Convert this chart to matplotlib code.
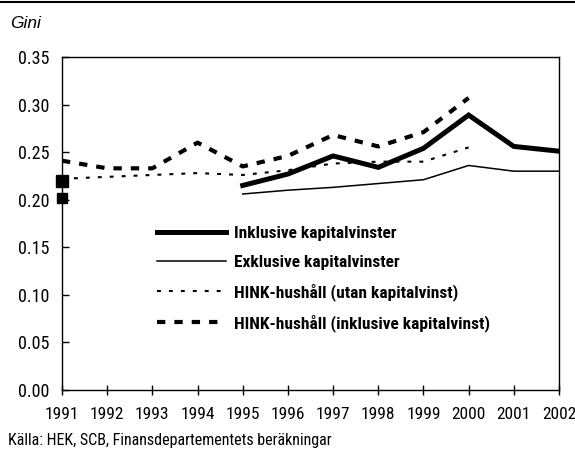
import matplotlib
matplotlib.use("Agg")
import matplotlib.pyplot as plt
from matplotlib import font_manager
from matplotlib.lines import Line2D

# -------- Data (Gini coefficients) --------
years = [1991, 1992, 1993, 1994, 1995, 1996, 1997, 1998, 1999, 2000, 2001, 2002]
years_main = [1995, 1996, 1997, 1998, 1999, 2000, 2001, 2002]
inkl = [0.215, 0.227, 0.246, 0.234, 0.254, 0.289, 0.256, 0.251]
exkl = [0.206, 0.210, 0.213, 0.217, 0.221, 0.236, 0.230, 0.230]
years_hink = [1991, 1992, 1993, 1994, 1995, 1996, 1997, 1998, 1999, 2000]
hink_utan = [0.222, 0.224, 0.226, 0.228, 0.226, 0.231, 0.238, 0.240, 0.240, 0.255]
hink_inkl = [0.241, 0.233, 0.233, 0.260, 0.235, 0.246, 0.268, 0.256, 0.271, 0.307]
# single 1991 observations shown as markers
inkl_1991 = 0.220
exkl_1991 = 0.202
y_ticks = [0.00, 0.05, 0.10, 0.15, 0.20, 0.25, 0.30, 0.35]

labels = ["Inklusive kapitalvinster", "Exklusive kapitalvinster",
          "HINK-hushåll (utan kapitalvinst)", "HINK-hushåll (inklusive kapitalvinst)"]

# look for a narrow / condensed face, otherwise squeeze DejaVu
names = {f.name for f in font_manager.fontManager.ttflist}
narrow_name = "DejaVu Sans"
for cand in ["Liberation Sans Narrow", "DejaVu Sans Condensed", "Roboto Condensed",
             "Open Sans Condensed", "Noto Sans Condensed"]:
    if cand in names:
        narrow_name = cand
        break
narrow = [narrow_name, "DejaVu Sans"]

plt.rcParams["lines.scale_dashes"] = False

fig = plt.figure(figsize=(5.75, 4.5), dpi=100)
ax = fig.add_axes([62 / 575, 1 - 390 / 450, 497 / 575, 333 / 450])

ax.plot(years_main, inkl, color="black", lw=3.6, solid_joinstyle="miter", label=labels[0])
ax.plot(years_main, exkl, color="black", lw=1.1, label=labels[1])
ax.plot(years_hink, hink_utan, color="black", lw=1.5, dashes=(2.8, 5.8), label=labels[2])
ax.plot(years_hink, hink_inkl, color="black", lw=3.0, dashes=(6.0, 6.5), label=labels[3])
ax.plot([1991], [inkl_1991], marker="s", ms=8.5, color="black", ls="none", clip_on=False)
ax.plot([1991], [exkl_1991], marker="s", ms=6.5, color="black", ls="none", clip_on=False)

ax.set_xlim(1991, 2002)
ax.set_ylim(0, 0.35)
ax.set_xticks(years)
ax.set_xticklabels([str(y) for y in years], family=narrow, stretch="condensed", fontsize=12.5)
ax.set_yticks(y_ticks)
ax.set_yticklabels([f"{v:.2f}" for v in y_ticks], family=narrow, stretch="condensed", fontsize=13)
ax.tick_params(axis="x", direction="inout", length=7, width=1, pad=9)
ax.tick_params(axis="y", direction="in", length=5, width=1, pad=9)
for sp in ax.spines.values():
    sp.set_linewidth(1.0)

leg = ax.legend(loc="upper left", bbox_to_anchor=(0.191, 0.493), frameon=False,
                handlelength=4.0, handletextpad=0.45, labelspacing=0.78,
                borderpad=0, borderaxespad=0,
                prop={"family": narrow, "stretch": "condensed", "weight": "bold", "size": 12.5})

fig.text(10 / 575, 1 - 23 / 450, "Gini", style="italic", fontsize=12.5,
         family="Liberation Sans", va="center", ha="left")
fig.text(8 / 575, 1 - 440 / 450, "Källa: HEK, SCB, Finansdepartementets beräkningar",
         family=narrow, stretch="condensed", fontsize=11.5, va="center", ha="left")
fig.add_artist(Line2D([0, 1], [1 - 2 / 450, 1 - 2 / 450], color="black", lw=1.5))

fig.savefig("out.png", dpi=100)
